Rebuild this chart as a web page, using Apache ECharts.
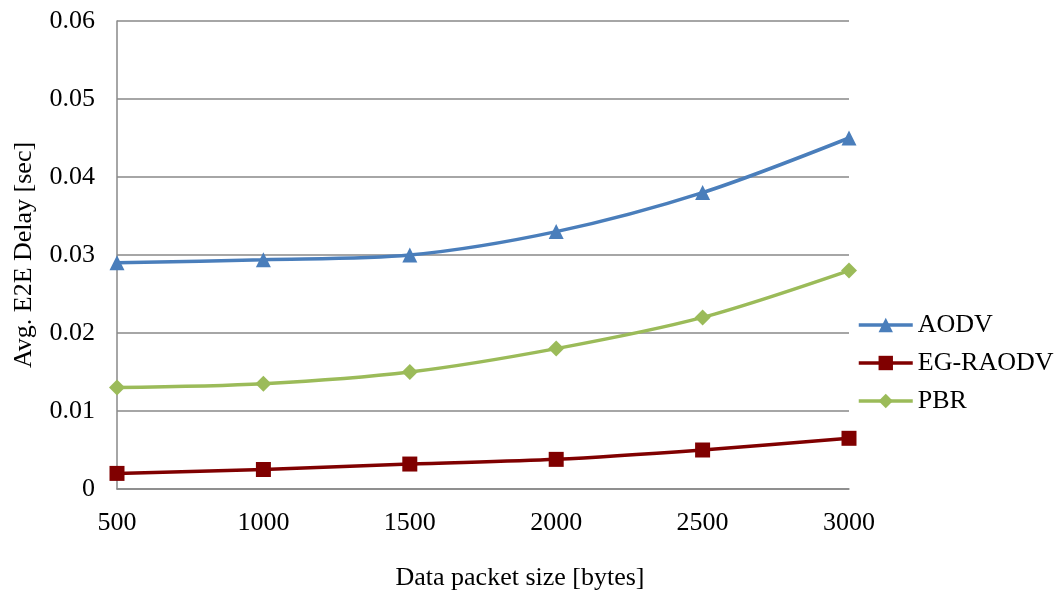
<!DOCTYPE html>
<html>
<head>
<meta charset="utf-8">
<script src="https://cdn.jsdelivr.net/npm/echarts@6/dist/echarts.min.js"></script>
<style>html,body{margin:0;padding:0;background:#fff;}#c{width:1059px;height:591px;}</style>
</head>
<body>
<div id="c"></div>
<script>
const categories = ['500', '1000', '1500', '2000', '2500', '3000'];
const aodv = [0.029, 0.0294, 0.030, 0.033, 0.038, 0.045];
const egraodv = [0.002, 0.0025, 0.0032, 0.0038, 0.005, 0.0065];
const pbr = [0.013, 0.0135, 0.015, 0.018, 0.022, 0.028];
const yTicks = [0, 0.01, 0.02, 0.03, 0.04, 0.05, 0.06];

const font = 'Liberation Serif';
const chart = echarts.init(document.getElementById('c'));
chart.setOption({
  backgroundColor: '#fff',
  animation: false,
  grid: { left: 117, right: 210, top: 21, bottom: 102, containLabel: false, outerBoundsMode: 'none' },
  legend: {
    orient: 'vertical', left: 857, top: 312, padding: 0,
    itemWidth: 54, itemHeight: 18, itemGap: 12,
    lineStyle: { width: 3.5 },
    textStyle: { fontFamily: font, fontSize: 26, color: '#000' },
    data: ['AODV', 'EG-RAODV', 'PBR']
  },
  xAxis: {
    type: 'category', data: categories, boundaryGap: false,
    name: 'Data packet size [bytes]', nameLocation: 'middle', nameGap: 76,
    nameTextStyle: { fontFamily: font, fontSize: 26, color: '#000', padding: [0, 0, 0, 74] },
    axisLine: { show: true, lineStyle: { color: '#888', width: 1.5 } },
    axisTick: { show: false },
    axisLabel: { fontFamily: font, fontSize: 26, color: '#000', margin: 21 },
    splitLine: { show: false }
  },
  yAxis: {
    type: 'value', min: 0, max: 0.06, interval: 0.01,
    name: 'Avg. E2E Delay [sec]', nameLocation: 'middle', nameGap: 80, nameRotate: 90,
    nameTextStyle: { fontFamily: font, fontSize: 26, color: '#000' },
    axisLine: { show: true, lineStyle: { color: '#888', width: 1.5 } },
    axisTick: { show: false },
    axisLabel: {
      fontFamily: font, fontSize: 26, color: '#000', margin: 22,
      formatter: v => { const t = yTicks.find(x => Math.abs(x - v) < 1e-9); return t === 0 ? '0' : (t !== undefined ? t.toFixed(2) : ''); }
    },
    splitLine: { show: true, lineStyle: { color: '#888', width: 1.5 } }
  },
  series: [
    { name: 'AODV', type: 'line', data: aodv, smooth: 0.3, symbol: 'triangle', symbolSize: 15,
      lineStyle: { width: 3.5, color: '#4a7ebb' }, itemStyle: { color: '#4a7ebb' } },
    { name: 'EG-RAODV', type: 'line', data: egraodv, smooth: 0.3, symbol: 'rect', symbolSize: 15,
      lineStyle: { width: 3.5, color: '#800000' }, itemStyle: { color: '#800000' } },
    { name: 'PBR', type: 'line', data: pbr, smooth: 0.3, symbol: 'diamond', symbolSize: 16,
      lineStyle: { width: 3.5, color: '#9bbb59' }, itemStyle: { color: '#9bbb59' } }
  ]
});
</script>
</body>
</html>
